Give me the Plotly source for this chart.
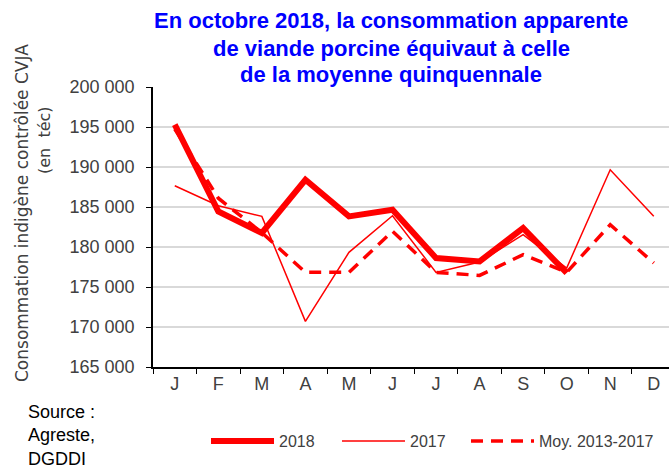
import plotly.graph_objects as go

mois = ["J", "F", "M", "A", "M ", "J ", "J  ", "A ", "S", "O", "N", "D"]
conso_2018 = [195300, 184450, 181750, 188400, 183830, 184660, 178620, 178200, 182370, 176750, None, None]
conso_2017 = [187660, 185160, 183830, 170700, 179330, 183910, 176830, 178120, 181540, 177370, 189660, 183830]
conso_moy = [194750, 186100, 181800, 176830, 176830, 181960, 176830, 176450, 179040, 176830, 182790, 178000]

titre = ["En octobre 2018, la consommation apparente",
         "de viande porcine équivaut à celle",
         "de la moyenne quinquennale"]

rouge = "#ff0000"

# zone de tracé en pixels (pour placer les annotations)
L, R, T, B = 153, 669, 87, 367
def px(x): return (x - L) / (R - L)
def py(y): return (B - y) / (B - T)

fig = go.Figure()

# la moyenne d'abord, 2018 au-dessus
fig.add_trace(go.Scatter(
    x=mois, y=conso_moy, mode="lines", name="Moy. 2013-2017", legend="legend3",
    line=dict(color=rouge, width=3.5, dash="12px,8px")
))
fig.add_trace(go.Scatter(
    x=mois, y=conso_2017, mode="lines", name="2017", legend="legend2",
    line=dict(color=rouge, width=1.5)
))
fig.add_trace(go.Scatter(
    x=mois, y=conso_2018, mode="lines", name="2018", legend="legend",
    line=dict(color=rouge, width=6), connectgaps=False
))

def leg(x):
    return dict(orientation="h", xref="container", yref="container",
                x=x / 669, y=1 - 441 / 469, xanchor="left", yanchor="middle",
                itemwidth=63,
                font=dict(size=16, color="#404040"), bgcolor="rgba(0,0,0,0)")

annots = [
    dict(text="<b>%s</b>" % t, xref="paper", yref="paper",
         x=px(391), y=py(21 + 27 * i), xanchor="center", yanchor="middle",
         showarrow=False, font=dict(size=22, color="#0000ff"))
    for i, t in enumerate(titre)
]
annots += [
    dict(text="Consommation indigène contrôlée CVJA", textangle=-90,
         xref="paper", yref="paper", x=px(22), y=py(213),
         xanchor="center", yanchor="middle", showarrow=False,
         font=dict(size=17, family="DejaVu Sans", color="#404040")),
    dict(text="(en  téc)", textangle=-90,
         xref="paper", yref="paper", x=px(44), y=py(140),
         xanchor="center", yanchor="middle", showarrow=False,
         font=dict(size=16, family="DejaVu Sans", color="#404040")),
    dict(text="Source :<br>Agreste,<br>DGDDI", align="left",
         xref="paper", yref="paper", x=px(26), y=py(400),
         xanchor="left", yanchor="top", showarrow=False,
         font=dict(size=18, color="#000000")),
]

fig.update_layout(
    width=669, height=469,
    paper_bgcolor="white", plot_bgcolor="white",
    separators=", ",
    font=dict(family="Liberation Sans, Arial", size=18, color="#404040"),
    margin=dict(l=L, r=669 - R, t=T, b=469 - B),
    xaxis=dict(
        type="category", range=[-0.5, 11.35],
        tickson="boundaries", ticks="outside", ticklen=5,
        tickcolor="black", showline=True, linecolor="black", linewidth=1.5,
        showgrid=False, tickfont=dict(size=18, color="#404040"),
        tickvals=mois, ticktext=[m.strip() for m in mois],
    ),
    yaxis=dict(
        range=[165000, 200000], dtick=5000, tickformat=",d",
        ticks="outside", ticklen=5, tickcolor="black", ticklabelstandoff=8,
        showline=True, linecolor="black", linewidth=1.5,
        showgrid=True, gridcolor="#d9d9d9", gridwidth=1.5,
        tickfont=dict(size=18, color="#404040"),
    ),
    showlegend=True,
    legend=leg(206),
    legend2=leg(337),
    legend3=leg(466),
    annotations=annots,
)

fig.write_html("out.html", config={"displayModeBar": False},
               post_script="document.body.style.margin='0';")
